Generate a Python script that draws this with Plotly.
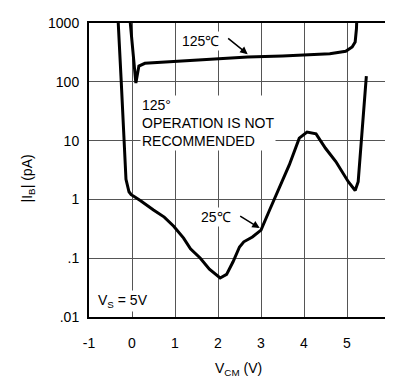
import plotly.graph_objects as go

# 25°C curve: common-mode voltage (V) and |IB| (pA)
vcm_25 = [-0.36, -0.32, -0.25, -0.18, -0.14, -0.07, -0.02, 0.05, 0.2, 0.5, 0.75, 0.97, 1.2,
          1.36, 1.59, 1.8, 2.05, 2.2, 2.35, 2.5, 2.6, 2.8, 3.0, 3.2, 3.38, 3.66, 3.89,
          4.07, 4.28, 4.5, 4.74, 5.03, 5.19, 5.26, 5.45]
ib_25 = [2000, 1000, 100, 10, 2.2, 1.35, 1.2, 1.12, 0.95, 0.66, 0.5, 0.35, 0.22,
         0.145, 0.1, 0.065, 0.046, 0.053, 0.087, 0.155, 0.19, 0.23, 0.3, 0.66, 1.3, 3.9, 11,
         14, 13, 7.4, 4.4, 2.0, 1.42, 2.0, 125]

# 125°C curve
vcm_125 = [-0.07, -0.04, 0.09, 0.16, 0.3, 1.0, 1.6, 2.0, 2.69, 3.5, 4.0, 4.6, 4.97, 5.12, 5.19, 5.22, 5.24]
ib_125 = [2000, 1000, 95, 185, 206, 220, 234, 245, 265, 275, 283, 300, 330, 390, 475, 800, 2000]

x_ticks = [-1, 0, 1, 2, 3, 4, 5, 6]
x_ticktext = ["-1", "0", "1", "2", "3", "4", "5", "6"]
y_ticks = [0.01, 0.1, 1, 10, 100, 1000]
y_ticktext = [".01", ".1", "1", "10", "100", "1000"]

FONT = "Liberation Sans, Arial, sans-serif"

fig = go.Figure()
fig.add_trace(go.Scatter(x=vcm_125, y=ib_125, mode="lines",
                         line=dict(color="black", width=3), showlegend=False))
fig.add_trace(go.Scatter(x=vcm_25, y=ib_25, mode="lines",
                         line=dict(color="black", width=3), showlegend=False))

fig.update_xaxes(range=[-1, 6], tickvals=x_ticks, ticktext=x_ticktext, showgrid=True,
                 gridcolor="#555", gridwidth=1, zeroline=False, showline=True,
                 linecolor="black", linewidth=2, mirror=True, ticks="",
                 ticklabelstandoff=12, ticklabeloverflow="allow",
                 tickfont=dict(size=14, color="black", family=FONT))
fig.update_yaxes(type="log", range=[-2, 3], tickvals=y_ticks, ticktext=y_ticktext,
                 showgrid=True, gridcolor="#555", gridwidth=1, zeroline=False,
                 showline=True, linecolor="black", linewidth=2, mirror=True, ticks="",
                 ticklabelstandoff=5, ticklabeloverflow="allow",
                 tickfont=dict(size=14, color="black", family=FONT))

tf = dict(size=14, color="black", family=FONT)
anns = [
    dict(x=0.18, y=1.30, xref="x", yref="y", text="125°<br>OPERATION IS NOT<br>RECOMMENDED",
         showarrow=False, xanchor="left", yanchor="middle", align="left",
         bgcolor="white", borderpad=1, font=tf),
    dict(x=1.59, y=2.70, xref="x", yref="y", text="125℃", showarrow=False,
         xanchor="center", yanchor="middle", bgcolor="white", borderpad=1, font=tf),
    dict(x=2.69, y=2.47, xref="x", yref="y", text="", showarrow=True, ax=-21, ay=-17,
         arrowhead=2, arrowsize=1, arrowwidth=1.5, arrowcolor="black"),
    dict(x=1.95, y=-0.306, xref="x", yref="y", text="25℃", showarrow=False,
         xanchor="center", yanchor="middle", bgcolor="white", borderpad=1, font=tf),
    dict(x=2.97, y=-0.488, xref="x", yref="y", text="", showarrow=True, ax=-21, ay=-13,
         arrowhead=2, arrowsize=1, arrowwidth=1.5, arrowcolor="black"),
    dict(x=-0.83, y=-1.727, xref="x", yref="y", text="V<sub>S</sub> = 5V", showarrow=False,
         xanchor="left", yanchor="middle", bgcolor="white", borderpad=1, font=tf),
    dict(x=-0.204, y=0.47, xref="paper", yref="paper", text="|I<sub>B</sub>| (pA)",
         textangle=-90, showarrow=False, xanchor="center", yanchor="middle", font=tf),
    dict(x=0.498, y=-0.178, xref="paper", yref="paper", text="V<sub>CM</sub> (V)",
         showarrow=False, xanchor="center", yanchor="middle", font=tf),
]
# the page body adds an 8px offset; the figure's right edge runs past the window
fig.update_layout(width=393, height=375, margin=dict(l=81, r=8, t=7, b=66),
                  plot_bgcolor="white", paper_bgcolor="white", annotations=anns,
                  showlegend=False)

fig.write_html("out.html")
